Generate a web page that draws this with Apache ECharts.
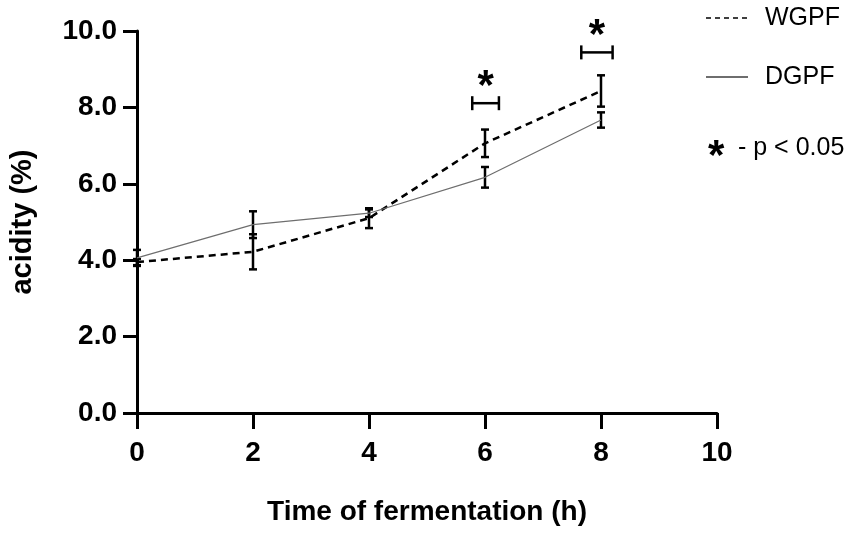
<!DOCTYPE html>
<html>
<head>
<meta charset="utf-8">
<title>acidity</title>
<script src="https://cdn.jsdelivr.net/npm/echarts@6/dist/echarts.min.js"></script>
<style>
  html, body { margin: 0; padding: 0; background: #fff; }
  #chart { width: 851px; height: 536px; }
</style>
</head>
<body>
<div id="chart"></div>
<script>
// data
var times = [0, 2, 4, 6, 8];
var wgpfMean = [3.95, 4.22, 5.10, 7.06, 8.43];
var wgpfSd = [0.08, 0.46, 0.26, 0.36, 0.41];
var dgpfMean = [4.06, 4.93, 5.23, 6.17, 7.67];
var dgpfSd = [0.21, 0.35, 0.10, 0.27, 0.20];
// significance brackets: centre x, height y, half width (x units)
var sigX = [6.01, 7.93];
var sigY = [8.11, 9.44];
var sigHalf = [0.23, 0.27];
var xTicks = [0, 10, 2];
var yTicks = [0, 10, 2];

var FONT = 'Liberation Sans, Arial, sans-serif';

var pairs = function (xs, ys) {
  return xs.map(function (x, i) { return [x, ys[i]]; });
};
var bars = function (xs, m, sd) {
  return xs.map(function (x, i) { return [x, m[i] - sd[i], m[i] + sd[i]]; });
};

var errorBar = function (params, api) {
  var lo = api.coord([api.value(0), api.value(1)]);
  var hi = api.coord([api.value(0), api.value(2)]);
  var hw = 4;
  var st = { stroke: '#000', lineWidth: 2.5 };
  return {
    type: 'group',
    children: [
      { type: 'line', shape: { x1: hi[0], y1: hi[1], x2: lo[0], y2: lo[1] }, style: st },
      { type: 'line', shape: { x1: hi[0] - hw, y1: hi[1], x2: hi[0] + hw, y2: hi[1] }, style: st },
      { type: 'line', shape: { x1: lo[0] - hw, y1: lo[1], x2: lo[0] + hw, y2: lo[1] }, style: st }
    ]
  };
};

var sigBracket = function (params, api) {
  var a = api.coord([api.value(0) - api.value(2), api.value(1)]);
  var b = api.coord([api.value(0) + api.value(2), api.value(1)]);
  var st = { stroke: '#000', lineWidth: 2.5 };
  return {
    type: 'group',
    children: [
      { type: 'line', shape: { x1: a[0], y1: a[1], x2: b[0], y2: b[1] }, style: st },
      { type: 'line', shape: { x1: a[0], y1: a[1] - 7, x2: a[0], y2: a[1] + 7 }, style: st },
      { type: 'line', shape: { x1: b[0], y1: b[1] - 7, x2: b[0], y2: b[1] + 7 }, style: st },
      {
        type: 'text',
        style: {
          text: '*', x: (a[0] + b[0]) / 2, y: a[1] - 16,
          font: 'bold 42px ' + FONT, fill: '#000',
          align: 'center', verticalAlign: 'middle'
        }
      }
    ]
  };
};

var myCharts = echarts.init(document.getElementById('chart'));
var options = {
  animation: false,
  textStyle: { fontFamily: FONT },
  grid: { left: 137, right: 134, top: 31, bottom: 123 },
  legend: {
    orient: 'vertical',
    left: 700,
    top: -2,
    itemWidth: 42,
    itemHeight: 14,
    itemGap: 29,
    textStyle: { fontSize: 25, color: '#000', lineHeight: 30, padding: [0, 0, 0, 12] },
    data: [
      { name: 'WGPF', itemStyle: { opacity: 0 }, lineStyle: { width: 1.5, type: [5, 4] } },
      { name: 'DGPF', itemStyle: { opacity: 0 } }
    ]
  },
  graphic: [
    {
      type: 'text', left: 708, top: 136,
      style: { text: '*', font: 'bold 42px ' + FONT, fill: '#000' }
    },
    {
      type: 'text', left: 738, top: 136,
      style: { text: '- p < 0.05', font: '25px ' + FONT, fill: '#000' }
    }
  ],
  xAxis: {
    type: 'value',
    min: xTicks[0],
    max: xTicks[1],
    interval: xTicks[2],
    name: 'Time of fermentation (h)',
    nameLocation: 'middle',
    nameGap: 85,
    nameTextStyle: { fontSize: 28, fontWeight: 'bold', color: '#000' },
    axisLine: { lineStyle: { color: '#000', width: 3 } },
    axisTick: { length: 16, lineStyle: { color: '#000', width: 3 } },
    axisLabel: { fontSize: 28, fontWeight: 'bold', color: '#000', margin: 26 },
    splitLine: { show: false }
  },
  yAxis: {
    type: 'value',
    min: yTicks[0],
    max: yTicks[1],
    interval: yTicks[2],
    name: 'acidity (%)',
    nameLocation: 'middle',
    nameGap: 100,
    nameTextStyle: { fontSize: 29, fontWeight: 'bold', color: '#000' },
    axisLine: { lineStyle: { color: '#000', width: 3 } },
    axisTick: { length: 14, lineStyle: { color: '#000', width: 3 } },
    axisLabel: {
      fontSize: 28, fontWeight: 'bold', color: '#000', margin: 20,
      formatter: function (v) { return v.toFixed(1); }
    },
    splitLine: { show: false }
  },
  series: [
    {
      name: 'WGPF',
      type: 'line',
      symbol: 'none',
      lineStyle: { color: '#000', width: 2.5, type: [7, 5] },
      itemStyle: { color: '#000' },
      data: pairs(times, wgpfMean)
    },
    {
      name: 'DGPF',
      type: 'line',
      symbol: 'none',
      lineStyle: { color: '#6e6e6e', width: 1.2 },
      itemStyle: { color: '#6e6e6e' },
      data: pairs(times, dgpfMean)
    },
    {
      type: 'custom',
      renderItem: errorBar,
      data: bars(times, wgpfMean, wgpfSd),
      z: 3
    },
    {
      type: 'custom',
      renderItem: errorBar,
      data: bars(times, dgpfMean, dgpfSd),
      z: 3
    },
    {
      type: 'custom',
      renderItem: sigBracket,
      clip: false,
      data: sigX.map(function (x, i) { return [x, sigY[i], sigHalf[i]]; }),
      z: 3
    }
  ]
};

myCharts.setOption(options);
</script>
</body>
</html>
